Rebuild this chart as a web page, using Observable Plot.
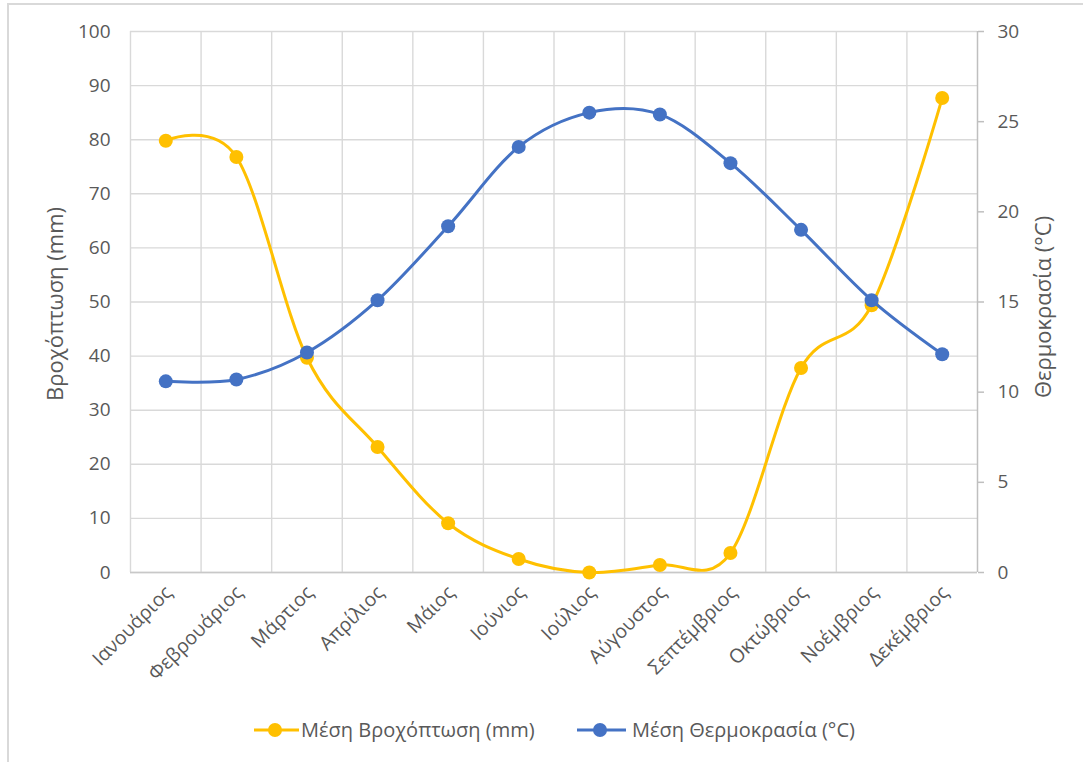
<!DOCTYPE html>
<html>
<head>
<meta charset="utf-8">
<script src="https://cdn.jsdelivr.net/npm/d3@7"></script>
<script src="https://cdn.jsdelivr.net/npm/@observablehq/plot@0.6"></script>
<style>
  html, body { margin: 0; padding: 0; background: #fff; overflow: hidden; }
  body { width: 1083px; height: 762px; position: relative; font-family: "Open Sans", "Noto Sans", sans-serif; }
  #frame { position: absolute; left: 7px; top: 3px; width: 1200px; height: 900px; border-top: 2px solid #d9d9d9; border-left: 2px solid #d9d9d9; box-sizing: border-box; }
  #chart { position: absolute; left: 0; top: 0; }
  .leg { position: absolute; top: 715px; height: 30px; line-height: 30px; font-size: 20px; color: #595959; white-space: nowrap; }
  .sw { position: absolute; top: 720px; }
</style>
</head>
<body>
<div id="frame"></div>
<div id="chart"></div>
<svg class="sw" style="left:253px" width="48" height="20"><line x1="1" y1="10" x2="46" y2="10" stroke="#FFC000" stroke-width="3"/><circle cx="22" cy="10" r="7" fill="#FFC000"/></svg>
<div class="leg" style="left:301px">Μέση Βροχόπτωση (mm)</div>
<svg class="sw" style="left:576px" width="52" height="20"><line x1="1" y1="10" x2="50" y2="10" stroke="#4472C4" stroke-width="3"/><circle cx="24" cy="10" r="7" fill="#4472C4"/></svg>
<div class="leg" style="left:632px">Μέση Θερμοκρασία (°C)</div>
<script>
const months = ["Ιανουάριος","Φεβρουάριος","Μάρτιος","Απρίλιος","Μάιος","Ιούνιος","Ιούλιος","Αύγουστος","Σεπτέμβριος","Οκτώβριος","Νοέμβριος","Δεκέμβριος"];
const rainfall = [79.8, 76.8, 39.7, 23.2, 9.1, 2.5, 0.0, 1.4, 3.6, 37.8, 49.4, 87.7];
const temperature = [10.6, 10.7, 12.2, 15.1, 19.2, 23.6, 25.5, 25.4, 22.7, 19.0, 15.1, 12.1];
const rainTicks = [0, 10, 20, 30, 40, 50, 60, 70, 80, 90, 100];
const tempTicks = [0, 5, 10, 15, 20, 25, 30];
const rainLabel = "Βροχόπτωση (mm)";
const tempLabel = "Θερμοκρασία (°C)";
const rainColor = "#FFC000";
const tempColor = "#4472C4";

const rainMax = d3.max(rainTicks), tempMax = d3.max(tempTicks);
const k = rainMax / tempMax;
const data = months.map((m, i) => ({i, month: m, rain: rainfall[i], temp: temperature[i] * k}));
const idx = d3.range(months.length);
const bounds = d3.range(months.length + 1).map(i => i - 0.5);

const chart = Plot.plot({
  width: 1083,
  height: 700,
  marginLeft: 130,
  marginRight: 106,
  marginTop: 31,
  marginBottom: 128,
  style: {fontFamily: "'Open Sans', 'Noto Sans', sans-serif", fontSize: "19px", color: "#595959", background: "transparent"},
  x: {domain: [bounds[0], bounds[bounds.length - 1]]},
  y: {domain: [0, rainMax]},
  marks: [
    Plot.gridY(rainTicks, {stroke: "#d9d9d9", strokeOpacity: 1, strokeWidth: 1.4}),
    Plot.gridX(bounds.slice(0, -1), {stroke: "#d9d9d9", strokeOpacity: 1, strokeWidth: 1.4}),
    Plot.ruleY([0], {stroke: "#c8c8c8", strokeWidth: 1.5}),
    Plot.ruleX([bounds[bounds.length - 1]], {stroke: "#bfbfbf", strokeWidth: 1.5}),
    Plot.axisY(rainTicks, {anchor: "left", tickSize: 0, tickPadding: 20, label: null, color: "#595959", fontSize: 19}),
    Plot.axisY(tempTicks.map(t => t * k), {anchor: "right", tickSize: 6, tickPadding: 14, label: null, color: "#595959", stroke: "#bfbfbf", strokeWidth: 1.5, fontSize: 19, tickFormat: d => Math.round(d / k)}),
    Plot.axisX(idx, {anchor: "bottom", tickSize: 0, tickPadding: 17, dx: 3, tickRotate: -45, label: null, color: "#595959", fontSize: 19.5, tickFormat: i => months[i]}),
    Plot.text([rainLabel], {frameAnchor: "left", dx: -75, dy: 2, rotate: -90, textAnchor: "middle", fill: "#595959", fontSize: 22}),
    Plot.text([tempLabel], {frameAnchor: "right", dx: 66, dy: 5, rotate: -90, textAnchor: "middle", fill: "#595959", fontSize: 22}),
    Plot.line(data, {x: "i", y: "rain", stroke: rainColor, strokeWidth: 3, curve: "cardinal"}),
    Plot.dot(data, {x: "i", y: "rain", fill: rainColor, r: 7}),
    Plot.line(data, {x: "i", y: "temp", stroke: tempColor, strokeWidth: 3, curve: "cardinal"}),
    Plot.dot(data, {x: "i", y: "temp", fill: tempColor, r: 7})
  ]
});
document.getElementById("chart").appendChild(chart);
</script>
</body>
</html>
